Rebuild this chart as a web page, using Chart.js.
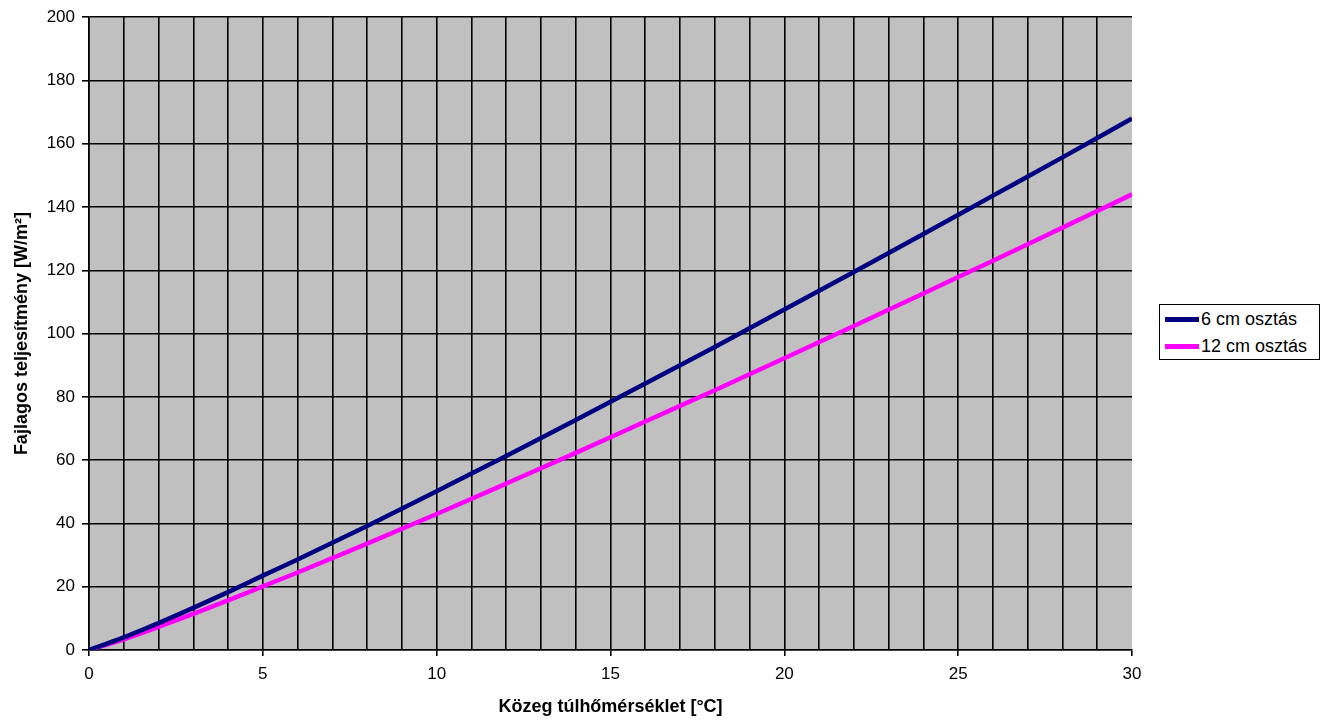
<!DOCTYPE html>
<html>
<head>
<meta charset="utf-8">
<script src="https://cdn.jsdelivr.net/npm/chart.js@4.4.1/dist/chart.umd.min.js"></script>
<style>
  html, body { margin: 0; padding: 0; background: #fff; }
  #wrap { position: relative; width: 1329px; height: 723px; }
  #c { position: absolute; left: 0; top: 0; }
  #legend { position: absolute; left: 1159px; top: 304px; width: 161px; height: 56px;
    border: 1.5px solid #000; background: #fff; font-family: "Liberation Sans", Arial, sans-serif;
    font-size: 18px; color: #000; box-sizing: border-box; }
  .item { position: absolute; left: 5px; height: 20px; display: flex; align-items: center; white-space: nowrap; }
  .swatch { width: 34px; height: 5px; margin-right: 2px; }
</style>
</head>
<body>
<div id="wrap">
  <canvas id="c" width="1329" height="723"></canvas>
  <div id="legend"></div>
</div>
<script>
// x values (Közeg túlhőmérséklet, °C)
const xValues = [0, 1, 2, 3, 4, 5, 6, 8, 10, 12, 14, 16, 18, 20, 22, 24, 26, 28, 30];
// 6 cm osztás (W/m²)
const series6cm = [0, 4.0, 8.5, 13.3, 18.3, 23.5, 28.6, 39.2, 50.2, 61.3, 72.7, 84.2, 95.8, 107.6, 119.5, 131.5, 143.6, 155.7, 168];
// 12 cm osztás (W/m²)
const series12cm = [0, 3.4, 7.3, 11.4, 15.7, 20.1, 24.5, 33.6, 43.0, 52.6, 62.3, 72.2, 82.1, 92.2, 102.4, 112.7, 123.0, 133.5, 144];
const seriesLabels = ['6 cm osztás', '12 cm osztás'];
const seriesColors = ['#000080', '#ff00ff'];
const xTitle = 'Közeg túlhőmérséklet [°C]';
const yTitle = 'Fajlagos teljesítmény [W/m²]';

const FONT = '"Liberation Sans", Arial, sans-serif';

const plotBg = {
  id: 'plotBg',
  beforeDraw(chart) {
    const {ctx, chartArea: a} = chart;
    ctx.save();
    ctx.fillStyle = '#c0c0c0';
    ctx.fillRect(a.left, a.top, a.right - a.left, a.bottom - a.top);
    ctx.restore();
  }
};

const toPts = (ys) => xValues.map((x, i) => ({x: x, y: ys[i]}));

const chart = new Chart(document.getElementById('c'), {
  type: 'line',
  data: {
    datasets: [
      { label: seriesLabels[0], data: toPts(series6cm), borderColor: seriesColors[0], backgroundColor: seriesColors[0],
        borderWidth: 4.5, pointRadius: 0, tension: 0.3, cubicInterpolationMode: 'monotone', fill: false },
      { label: seriesLabels[1], data: toPts(series12cm), borderColor: seriesColors[1], backgroundColor: seriesColors[1],
        borderWidth: 4.5, pointRadius: 0, tension: 0.3, cubicInterpolationMode: 'monotone', fill: false }
    ]
  },
  options: {
    responsive: false,
    animation: false,
    layout: { padding: { top: 14, right: 197, left: 0, bottom: 0 } },
    plugins: { legend: { display: false }, tooltip: { enabled: false } },
    scales: {
      x: {
        type: 'linear', min: 0, max: 30,
        afterFit(s) { s.height = 73; },
        ticks: { stepSize: 1, autoSkip: false, maxRotation: 0, padding: 8, color: '#000',
          font: { family: FONT, size: 17 },
          callback: (v) => (v % 5 === 0 ? String(v) : '') },
        grid: { color: (c) => (c.tick && c.tick.value === 30 ? 'rgba(0,0,0,0)' : '#000'),
          tickColor: (c) => (c.tick && c.tick.value % 5 === 0 ? '#000' : 'rgba(0,0,0,0)'),
          lineWidth: 1.6, tickLength: 6 },
        border: { color: '#000', width: 1.6 },
        title: { display: true, text: xTitle, color: '#000', padding: { top: 0, bottom: 5 },
          font: { family: FONT, size: 18, weight: 'bold' } }
      },
      y: {
        min: 0, max: 200,
        afterFit(s) { s.width = 89; },
        ticks: { stepSize: 20, padding: 7, color: '#000', font: { family: FONT, size: 17 } },
        grid: { color: '#000', lineWidth: 1.6, tickLength: 7, tickColor: '#000' },
        border: { color: '#000', width: 1.6 },
        title: { display: true, text: yTitle, color: '#000', padding: { top: 11, bottom: 0 },
          font: { family: FONT, size: 18, weight: 'bold' } }
      }
    }
  },
  plugins: [plotBg]
});

// HTML legend built from dataset definitions
const legend = document.getElementById('legend');
chart.data.datasets.forEach((ds, i) => {
  const item = document.createElement('div');
  item.className = 'item';
  item.style.top = (4 + i * 27) + 'px';
  const sw = document.createElement('span');
  sw.className = 'swatch';
  sw.style.background = ds.borderColor;
  const tx = document.createElement('span');
  tx.textContent = ds.label;
  item.appendChild(sw);
  item.appendChild(tx);
  legend.appendChild(item);
});
</script>
</body>
</html>
